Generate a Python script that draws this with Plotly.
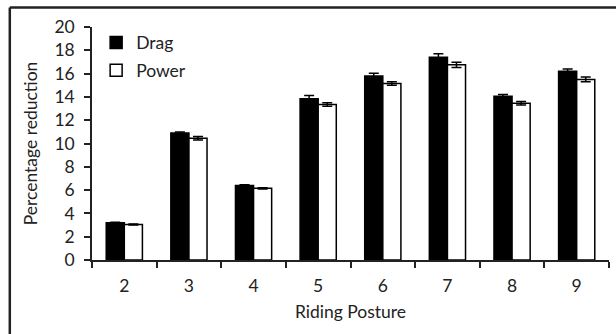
import plotly.graph_objects as go

postures = ["2", "3", "4", "5", "6", "7", "8", "9"]
drag = [3.2, 10.9, 6.4, 13.85, 15.8, 17.4, 14.05, 16.2]
drag_err = [0.05, 0.08, 0.05, 0.28, 0.22, 0.3, 0.15, 0.2]
power = [3.05, 10.45, 6.15, 13.35, 15.15, 16.75, 13.45, 15.5]
power_err = [0.05, 0.15, 0.05, 0.15, 0.15, 0.22, 0.15, 0.2]

FONT = "Lato"
FS = 17.5

fig = go.Figure()
fig.add_trace(go.Bar(
    name="Drag", x=postures, y=drag, legendgroup="a",
    marker=dict(color="black", line=dict(color="black", width=1.5)),
    error_y=dict(type="data", array=drag_err, color="black", thickness=1.5, width=5),
))
fig.add_trace(go.Bar(
    name="Power", x=postures, y=power, legendgroup="b",
    marker=dict(color="white", line=dict(color="black", width=1.5)),
    error_y=dict(type="data", array=power_err, color="black", thickness=1.5, width=5),
))

fig.update_layout(
    width=616, height=334,
    margin=dict(l=92, r=7, t=27, b=74),
    paper_bgcolor="white", plot_bgcolor="white",
    barmode="group", bargap=0.44, bargroupgap=0,
    font=dict(family=FONT, size=FS, color="#222"),
    showlegend=True,
    legend=dict(x=0.008, y=1.01, xanchor="left", yanchor="top",
                bgcolor="rgba(0,0,0,0)", font=dict(size=FS, family=FONT),
                traceorder="grouped", tracegroupgap=2, itemwidth=30),
    xaxis=dict(
        title=dict(text="Riding Posture", font=dict(size=FS, family=FONT), standoff=11),
        showline=True, linecolor="#222", linewidth=1.5,
        ticks="outside", tickson="boundaries", ticklen=6, tickcolor="#222", tickwidth=1.5,
        tickfont=dict(size=FS, family=FONT), ticklabelstandoff=9,
        showgrid=False,
    ),
    yaxis=dict(
        title=dict(text="Percentage reduction", font=dict(size=FS, family=FONT), standoff=12),
        range=[0, 20], dtick=2,
        showline=True, linecolor="#222", linewidth=1.5,
        ticks="outside", ticklen=6, tickcolor="#222", tickwidth=1.5,
        tickfont=dict(size=FS, family=FONT), ticklabelstandoff=6,
        showgrid=False, zeroline=False,
    ),
    shapes=[
        dict(type="line", xref="paper", yref="paper", x0=-0.159, x1=1.02, y0=1.0837, y1=1.0837,
             line=dict(color="#222", width=2.5)),
        dict(type="line", xref="paper", yref="paper", x0=-0.159, x1=-0.159, y0=1.0837, y1=-0.35,
             line=dict(color="#222", width=2.5)),
    ],
)

fig.write_html("out.html")
